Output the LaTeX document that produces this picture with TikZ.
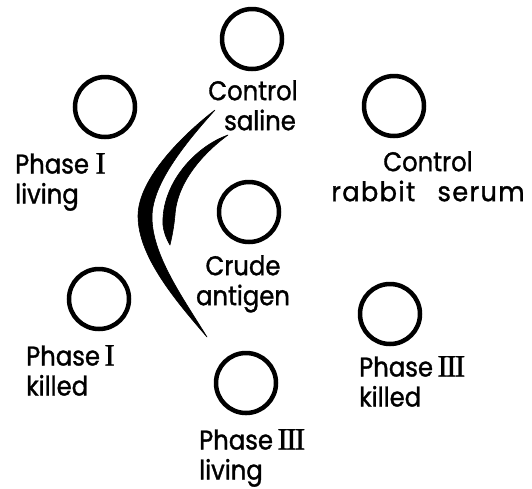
\documentclass[tikz,border=0pt]{standalone}
\usepackage{fontspec}
\setmainfont{Poppins}[FakeStretch=0.9,FakeBold=1.2]
\newfontfamily\romfont{Liberation Serif}[FakeBold=1]
\newfontfamily\widefont{Poppins}[FakeStretch=0.95,FakeBold=1.2,LetterSpace=5]
\newcommand{\RomI}{{\romfont\fontsize{31}{31}\selectfont I}}
\newcommand{\RomIII}{{\romfont\fontsize{31}{31}\selectfont I\kern-1.6pt I\kern-1.6pt I}}
\begin{document}
\begin{tikzpicture}[x=1pt,y=-1pt,
  well/.style={circle,draw=black,line width=4.5pt,minimum size=60pt,inner sep=0pt},
  lbl/.style={inner sep=0pt,font=\fontsize{27}{30}\selectfont}]
\useasboundingbox (0,0) rectangle (532,488);

% antigen / antiserum wells
\node[well] (wsal) at (252,39)  {};
\node[well] (wp1l) at (105,107) {};
\node[well] (wrab) at (394,106) {};
\node[well] (wcru) at (249,212) {};
\node[well] (wp1k) at (99,299)  {};
\node[well] (wp3k) at (390,314) {};
\node[well] (wp3l) at (246,383) {};

% well labels
\node[lbl,anchor=north,align=center] (lsal) at (253,80) {Control\\\hspace*{14pt}saline};
\node[lbl,anchor=north west,align=left] (lp1l) at (15,153) {Phase \RomI\\living};
\node[lbl,anchor=north,align=center] (lrab) at (428,151)
  {Control\\{\widefont rabbit\hspace{14pt} serum}};
\node[lbl,anchor=north,align=center] (lcru) at (243,255) {Crude\\antigen};
\node[lbl,anchor=north west,align=left] (lp1k) at (26,345) {Phase\,\RomI\\killed};
\node[lbl,anchor=north west,align=left] (lp3k) at (359,356) {Phase\,\RomIII\\killed};
\node[lbl,anchor=north west,align=left] (lp3l) at (199,429) {Phase\,\RomIII\\living};

% precipitin bands (crescents)
\fill[black,draw=black,line width=0.6pt,line join=round]
  (215,110) .. controls (185,133) and (138,178) .. (138,216)
            .. controls (138,256) and (175,300) .. (207,337)
            .. controls (183,298) and (152,255) .. (152,217)
            .. controls (152,182) and (190,138) .. cycle;
\fill[black,draw=black,line width=0.6pt,line join=round]
  (228,135) .. controls (194,147) and (161,185) .. (163,225)
            .. controls (164,233) and (166,238) .. (170,245)
            .. controls (173,232) and (174,225) .. (175,215)
            .. controls (177,183) and (202,154) .. cycle;
\end{tikzpicture}
\end{document}
